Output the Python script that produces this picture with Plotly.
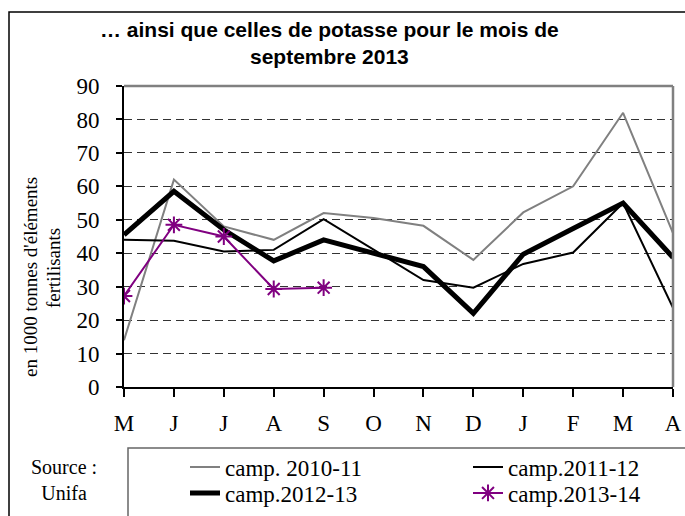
import plotly.graph_objects as go

months = ["M", "J", "J", "A", "S", "O", "N", "D", "J", "F", "M", "A"]
camp_2010_11 = [14, 62, 48, 44, 52, 50.5, 48.2, 38, 52.2, 60, 82, 46]
camp_2011_12 = [44, 43.7, 40.5, 41, 50.2, 41, 32, 29.7, 36.8, 40.2, 55, 23.7]
camp_2012_13 = [45.5, 58.5, 47, 37.7, 44, 40, 36, 22, 39.7, 47.4, 55, 38.7]
camp_2013_14 = [27.2, 48.5, 45, 29.3, 29.7, None, None, None, None, None, None, None]
y_ticks = [0, 10, 20, 30, 40, 50, 60, 70, 80, 90]

W, H = 685, 516
L, R, T, B = 124, 12, 86, 129
PW, PH = W - L - R, H - T - B


def px(x):
    return (x - L) / PW


def py(y):
    return (H - B - y) / PH


xs = list(range(len(months)))
serif = "Liberation Serif, Times New Roman, serif"

fig = go.Figure()
fig.add_trace(go.Scatter(x=xs, y=camp_2010_11, mode="lines", name="camp. 2010-11",
                         line=dict(color="#808080", width=2), legend="legend"))
fig.add_trace(go.Scatter(x=xs, y=camp_2011_12, mode="lines", name="camp.2011-12",
                         line=dict(color="#000000", width=2), legend="legend2"))
fig.add_trace(go.Scatter(x=xs, y=camp_2012_13, mode="lines", name="camp.2012-13",
                         line=dict(color="#000000", width=5), legend="legend3"))
fig.add_trace(go.Scatter(x=xs, y=camp_2013_14, mode="lines+markers", name="camp.2013-14",
                         line=dict(color="#800080", width=2),
                         marker=dict(symbol="asterisk-open", size=14,
                                     line=dict(color="#800080", width=2)),
                         legend="legend4"))

legend_font = dict(family=serif, size=23, color="#000")
common = dict(xanchor="left", yanchor="middle", bgcolor="rgba(0,0,0,0)",
              borderwidth=0, font=legend_font)

fig.update_layout(
    width=W, height=H,
    margin=dict(l=L, r=R, t=T, b=B, autoexpand=False),
    paper_bgcolor="white", plot_bgcolor="white",
    showlegend=True,
    legend=dict(x=px(185), y=py(467), **common),
    legend2=dict(x=px(468), y=py(467), **common),
    legend3=dict(x=px(185), y=py(493), **common),
    legend4=dict(x=px(468), y=py(493), **common),
    xaxis=dict(range=[0, 11], tickvals=xs, ticktext=months, ticks="outside",
               ticklen=8, tickwidth=1.5, tickcolor="#000", showline=True,
               linecolor="#000", linewidth=2, showgrid=False, zeroline=False,
               tickfont=dict(family=serif, size=23, color="#000"),
               ticklabelstandoff=6),
    yaxis=dict(range=[0, 90], tickvals=y_ticks, ticks="outside", ticklen=6,
               tickwidth=1.5, tickcolor="#000", showline=True, linecolor="#000",
               linewidth=2, showgrid=True, gridcolor="#333", gridwidth=1,
               griddash="8px,5px", zeroline=False,
               tickfont=dict(family=serif, size=23, color="#000"),
               ticklabelstandoff=12),
)

shapes = [
    dict(type="rect", xref="paper", yref="paper", x0=px(9), y0=py(12),
         x1=px(700), y1=py(530), line=dict(color="#000", width=1.5), layer="above"),
    dict(type="rect", xref="paper", yref="paper", x0=px(128), y0=py(448),
         x1=px(700), y1=py(530), line=dict(color="#666", width=1.5), layer="above"),
    dict(type="line", xref="paper", yref="paper", x0=0, y0=1, x1=1, y1=1,
         line=dict(color="#808080", width=2.5), layer="above"),
    dict(type="line", xref="paper", yref="paper", x0=1, y0=0, x1=1, y1=1,
         line=dict(color="#808080", width=2.5), layer="above"),
]
fig.update_layout(shapes=shapes)

title_font = dict(family="Liberation Sans, Arial, sans-serif", size=21, color="#000")
annotations = [
    dict(text="<b>… ainsi que celles de potasse pour le mois de</b>", x=px(329), y=py(30),
         xref="paper", yref="paper", showarrow=False, xanchor="center", yanchor="middle",
         font=title_font),
    dict(text="<b>septembre 2013</b>", x=px(329), y=py(56),
         xref="paper", yref="paper", showarrow=False, xanchor="center", yanchor="middle",
         font=title_font),
    dict(text="en 1000 tonnes d'éléments", x=px(30), y=py(277), textangle=-90,
         xref="paper", yref="paper", showarrow=False, xanchor="center", yanchor="middle",
         font=dict(family=serif, size=19, color="#000")),
    dict(text="fertilisants", x=px(53), y=py(268), textangle=-90,
         xref="paper", yref="paper", showarrow=False, xanchor="center", yanchor="middle",
         font=dict(family=serif, size=19, color="#000")),
    dict(text="Source :<br>Unifa", x=px(64), y=py(480),
         xref="paper", yref="paper", showarrow=False, xanchor="center", yanchor="middle",
         align="center", font=dict(family=serif, size=20, color="#000")),
]
fig.update_layout(annotations=annotations)

fig.write_html("out.html", config={"displayModeBar": False},
               post_script="document.body.style.margin='0px';document.body.style.overflow='hidden';")
